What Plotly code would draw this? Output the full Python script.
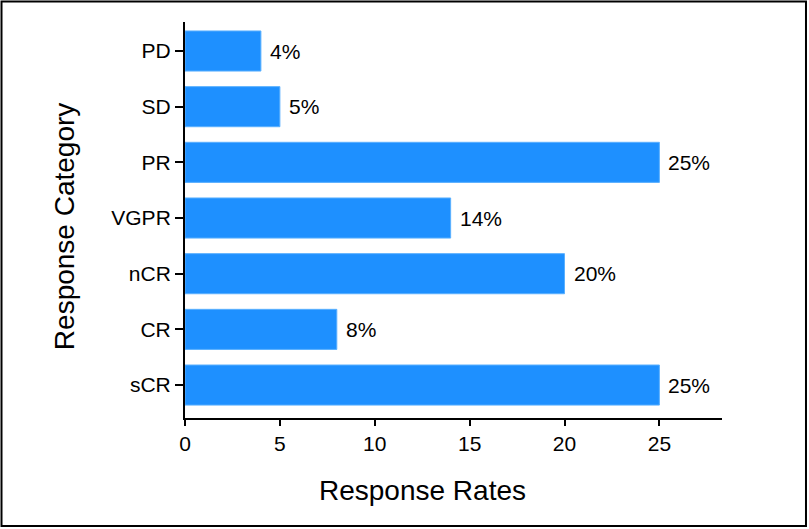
import plotly.graph_objects as go

categories = ["sCR", "CR", "nCR", "VGPR", "PR", "SD", "PD"]
response_rates = [25, 8, 20, 14, 25, 5, 4]
rate_labels = ["25%", "8%", "20%", "14%", "25%", "5%", "4%"]
x_tick_values = [0, 5, 10, 15, 20, 25]

FONT = "Liberation Sans, Arial, Helvetica, sans-serif"

fig = go.Figure()
fig.add_trace(go.Bar(
    y=categories,
    x=response_rates,
    orientation="h",
    width=0.72,
    marker=dict(color="#1E90FF", line=dict(color="#5AB0FF", width=1)),
    hoverinfo="skip",
))

annotations = []
for cat, val, lab in zip(categories, response_rates, rate_labels):
    annotations.append(dict(
        x=val, y=cat, xref="x", yref="y", text=lab, showarrow=False,
        xanchor="left", yanchor="middle", xshift=7,
        font=dict(family=FONT, size=21, color="black"),
    ))

annotations.append(dict(
    x=0.443, y=-0.184, xref="paper", yref="paper", text="Response Rates",
    showarrow=False, xanchor="center", yanchor="middle",
    font=dict(family=FONT, size=28, color="black"),
))
annotations.append(dict(
    x=-0.2253, y=0.482, xref="paper", yref="paper", text="Response Category",
    showarrow=False, xanchor="center", yanchor="middle", textangle=-90,
    font=dict(family=FONT, size=28, color="black"),
))

fig.update_layout(
    width=809, height=529, autosize=False,
    margin=dict(l=185, r=87, t=22, b=111, pad=0),
    paper_bgcolor="white", plot_bgcolor="white",
    showlegend=False,
    font=dict(family=FONT, size=21, color="black"),
    xaxis=dict(
        range=[0, 28.3], tickvals=x_tick_values, ticktext=[str(v) for v in x_tick_values],
        showline=True, linecolor="black", linewidth=2,
        ticks="outside", ticklen=6, tickwidth=2, tickcolor="black",
        showgrid=False, zeroline=False,
        tickfont=dict(family=FONT, size=21, color="black"),
    ),
    yaxis=dict(
        type="category", categoryorder="array", categoryarray=categories,
        range=[-0.592, 6.521],
        showline=True, linecolor="black", linewidth=2,
        ticks="outside", ticklen=8, tickwidth=2, tickcolor="black",
        showgrid=False, zeroline=False,
        tickfont=dict(family=FONT, size=21, color="black"),
    ),
    annotations=annotations,
    shapes=[dict(
        type="rect", xref="paper", yref="paper",
        x0=-0.3417, x1=1.1564, y0=-0.2727, y1=1.0518,
        line=dict(color="black", width=2), fillcolor="rgba(0,0,0,0)", layer="above",
    )],
)

fig.write_html(
    "out.html",
    config={"displayModeBar": False},
    post_script="document.body.style.margin='0px';document.body.style.overflow='hidden';",
)
